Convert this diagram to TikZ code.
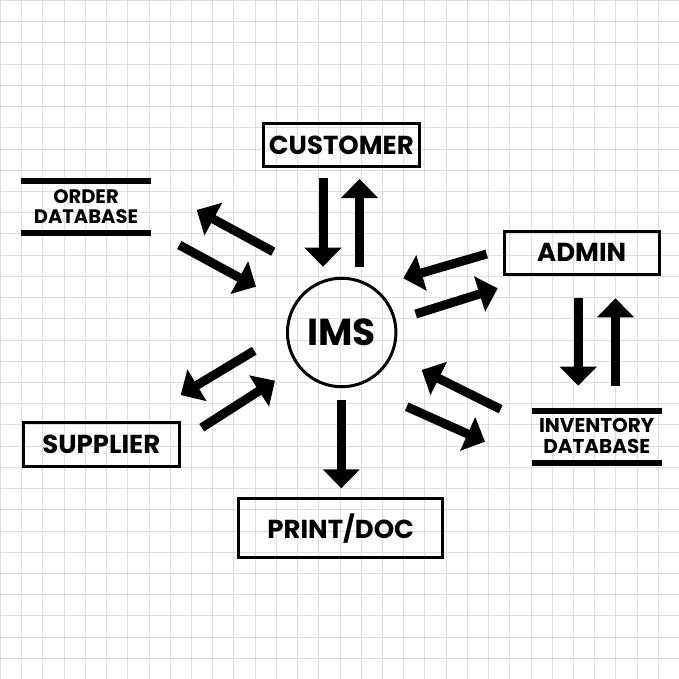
\documentclass[tikz,border=0pt]{standalone}
\usepackage{fontspec}
\setmainfont{Poppins}
\usetikzlibrary{arrows.meta}
\tikzset{
  gridline/.style={draw=black!13, line width=1pt},
  boxnode/.style={draw=black, line width=3pt, inner sep=0pt, font=\bfseries\fontsize{26}{30}\selectfont},
  dbbar/.style={draw=black, line width=6pt},
  dbtext/.style={font=\bfseries\fontsize{19.5}{20}\selectfont, align=center, inner sep=0pt},
  bigarrow/.style={draw=black, line width=9pt, -{Triangle[width=36pt,length=19pt]}},
}
\begin{document}
\begin{tikzpicture}[x=1pt,y=-1pt]
\useasboundingbox (0,0) rectangle (679,679);
\fill[white] (0,0) rectangle (679,679);
\foreach \i in {0,...,32}{
  \draw[gridline] (\i*21.22+0.5,0) -- (\i*21.22+0.5,679);
  \draw[gridline] (0,\i*21.22+0.5) -- (679,\i*21.22+0.5);
}
% nodes
\node[boxnode, minimum width=156pt, minimum height=43pt] (customer) at (341.3,145) {CUSTOMER};
\node[boxnode, minimum width=155pt, minimum height=42.7pt] (admin) at (581.7,252.8) {ADMIN};
\node[boxnode, minimum width=156.3pt, minimum height=44pt] (supplier) at (101.3,444.2) {SUPPLIER};
\node[boxnode, minimum width=203.7pt, minimum height=59pt] (print) at (340.7,528.3) {PRINT/DOC};
\node[draw=black, line width=3pt, circle, minimum size=108.5pt, inner sep=0pt,
      font=\bfseries\fontsize{37.5}{40}\selectfont] (ims) at (341.7,332.5) {IMS};
% order database
\node[dbtext, font=\bfseries\fontsize{19.5}{20}\selectfont] (orderdb) at (86,206.7) {ORDER\\DATABASE};
\coordinate (odtl) at (21,180.7); \coordinate (odtr) at (151,180.7);
\coordinate (odbl) at (21,233);   \coordinate (odbr) at (151,233);
\draw[dbbar] (odtl) -- (odtr);
\draw[dbbar] (odbl) -- (odbr);
% inventory database
\node[dbtext, font=\bfseries\fontsize{20}{21}\selectfont] (invdb) at (596.7,435.5) {INVENTORY\\DATABASE};
\coordinate (idtl) at (531.7,411); \coordinate (idtr) at (661.7,411);
\coordinate (idbl) at (531.7,462.7); \coordinate (idbr) at (661.7,462.7);
\draw[dbbar] (idtl) -- (idtr);
\draw[dbbar] (idbl) -- (idbr);
% arrow end points
\coordinate (c1a) at (323,178);   \coordinate (c1b) at (323,266.7);
\coordinate (c2a) at (359.5,266.7); \coordinate (c2b) at (359.5,179);
\coordinate (a1a) at (578.2,298); \coordinate (a1b) at (578.2,385.7);
\coordinate (a2a) at (615.5,386); \coordinate (a2b) at (615.5,298.3);
\coordinate (p1a) at (341.3,400); \coordinate (p1b) at (341.3,488.3);
\coordinate (o1a) at (273.3,251.7); \coordinate (o1b) at (196.7,210);
\coordinate (o2a) at (179.3,245);   \coordinate (o2b) at (256,286.7);
\coordinate (r1a) at (486.7,254);   \coordinate (r1b) at (403.3,278.3);
\coordinate (r2a) at (415.7,314);   \coordinate (r2b) at (497.7,288.3);
\coordinate (s1a) at (254.3,350.7); \coordinate (s1b) at (180.7,395);
\coordinate (s2a) at (201.7,427.7); \coordinate (s2b) at (275,380.7);
\coordinate (v1a) at (500.7,409.3); \coordinate (v1b) at (421.7,370);
\coordinate (v2a) at (406.7,406.7); \coordinate (v2b) at (485,441.7);
% arrows
\foreach \p in {c1,c2,a1,a2,p1,o1,o2,r1,r2,s1,s2,v1,v2}{
  \draw[bigarrow] (\p a) -- (\p b);
}
\end{tikzpicture}
\end{document}
